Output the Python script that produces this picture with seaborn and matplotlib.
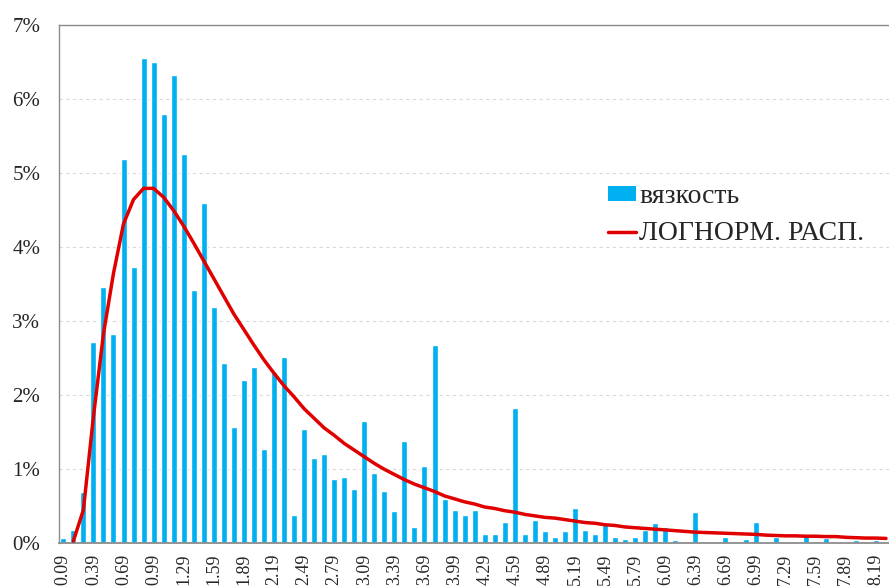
import numpy as np
import pandas as pd
import matplotlib
matplotlib.use("Agg")
import matplotlib.pyplot as plt
from matplotlib.patches import Patch
from matplotlib.lines import Line2D
from matplotlib.ticker import FuncFormatter
import seaborn as sns

# ---- data (percent) ----
categories = ["0.09", "0.19", "0.29", "0.39", "0.49", "0.59", "0.69", "0.79", "0.89", "0.99",
              "1.09", "1.19", "1.29", "1.39", "1.49", "1.59", "1.69", "1.79", "1.89", "1.99",
              "2.09", "2.19", "2.29", "2.39", "2.49", "2.59", "2.69", "2.79", "2.89", "2.99",
              "3.09", "3.19", "3.29", "3.39", "3.49", "3.59", "3.69", "3.79", "3.89", "3.99",
              "4.09", "4.19", "4.29", "4.39", "4.49", "4.59", "4.69", "4.79", "4.89", "4.99",
              "5.09", "5.19", "5.29", "5.39", "5.49", "5.59", "5.69", "5.79", "5.89", "5.99",
              "6.09", "6.19", "6.29", "6.39", "6.49", "6.59", "6.69", "6.79", "6.89", "6.99",
              "7.09", "7.19", "7.29", "7.39", "7.49", "7.59", "7.69", "7.79", "7.89", "7.99",
              "8.09", "8.19", "8.29"]

viscosity = [0.06, 0.17, 0.68, 2.71, 3.46, 2.82, 5.19, 3.73, 6.55, 6.50,
             5.79, 6.33, 5.25, 3.41, 4.59, 3.18, 2.43, 1.56, 2.20, 2.38,
             1.27, 2.30, 2.51, 0.37, 1.54, 1.14, 1.20, 0.86, 0.88, 0.73,
             1.65, 0.94, 0.70, 0.42, 1.37, 0.21, 1.04, 2.67, 0.59, 0.44,
             0.37, 0.44, 0.11, 0.11, 0.28, 1.82, 0.11, 0.31, 0.16, 0.07,
             0.16, 0.47, 0.17, 0.11, 0.25, 0.08, 0.05, 0.08, 0.17, 0.26,
             0.21, 0.03, 0.00, 0.41, 0.00, 0.00, 0.08, 0.00, 0.05, 0.28,
             0.00, 0.07, 0.00, 0.00, 0.10, 0.00, 0.06, 0.00, 0.00, 0.04,
             0.00, 0.04, 0.00]

lognorm = [np.nan, 0.02, 0.44, 1.70, 2.82, 3.64, 4.31, 4.64, 4.79, 4.79,
           4.67, 4.49, 4.28, 4.05, 3.81, 3.57, 3.33, 3.09, 2.88, 2.67,
           2.47, 2.29, 2.12, 1.97, 1.81, 1.68, 1.55, 1.45, 1.34, 1.25,
           1.16, 1.07, 0.99, 0.92, 0.85, 0.79, 0.74, 0.69, 0.63, 0.59,
           0.55, 0.52, 0.48, 0.46, 0.43, 0.41, 0.38, 0.36, 0.34, 0.33,
           0.31, 0.29, 0.27, 0.26, 0.24, 0.23, 0.21, 0.20, 0.19, 0.18,
           0.17, 0.16, 0.15, 0.14, 0.135, 0.13, 0.125, 0.12, 0.115, 0.11,
           0.10, 0.095, 0.09, 0.09, 0.085, 0.085, 0.08, 0.08, 0.07, 0.065,
           0.06, 0.06, 0.055]

yticks = [0, 1, 2, 3, 4, 5, 6, 7]
bar_label = "вязкость"
line_label = "ЛОГНОРМ. РАСП."

# ---- style ----
sns.set_style("white")
plt.rcParams["font.family"] = ["Liberation Serif", "DejaVu Serif"]

W, H = 889, 588
fig = plt.figure(figsize=(W / 100, H / 100), dpi=100)
left, top, bottom = 59, 25, 542.5
ax = fig.add_axes([left / W, 1 - bottom / H, 1 - left / W, (bottom - top) / H])

df = pd.DataFrame({"cat": categories, "val": viscosity,
                   "idx": np.arange(len(categories)), "curve": lognorm})

ax.yaxis.grid(True, color="#D9D9D9", linestyle=(0, (3, 3)), linewidth=0.8)
ax.set_axisbelow(True)

sns.barplot(data=df, x="cat", y="val", color="#00B0F0", saturation=1,
            width=0.6, ax=ax, zorder=2)
sns.lineplot(data=df, x="idx", y="curve", color="#E00000", linewidth=2.5,
             ax=ax, zorder=3)

ax.set_xlim(-0.43, 82.3)
ax.set_ylim(0, 7)
ax.set_yticks(yticks)
ax.yaxis.set_major_formatter(FuncFormatter(lambda v, p: f"{int(round(v))}%"))
ax.set_xticks(range(0, len(categories), 3))
ax.set_xticklabels(categories[::3], rotation=90)
ax.tick_params(axis="y", length=0, pad=13.5, labelsize=15)
ax.tick_params(axis="x", length=0, pad=8, labelsize=13)
ax.set_xlabel("")
ax.set_ylabel("")

for s in ["left", "top", "bottom"]:
    ax.spines[s].set_color("#8C8C8C")
    ax.spines[s].set_linewidth(1.0)
ax.spines["bottom"].set_linewidth(1.3)
ax.spines["right"].set_visible(False)

handles = [Patch(facecolor="#00B0F0", edgecolor="none"),
           Line2D([0], [0], color="#E00000", linewidth=2.5)]
leg = fig.legend(handles, [bar_label, line_label], loc="upper left",
                 bbox_to_anchor=(608 / W, 1 - 184 / H), frameon=False,
                 fontsize=20, handlelength=1.0, handleheight=0.45,
                 handletextpad=0.12, labelspacing=0.45, borderpad=0,
                 borderaxespad=0)

fig.savefig("out.png", dpi=100)
